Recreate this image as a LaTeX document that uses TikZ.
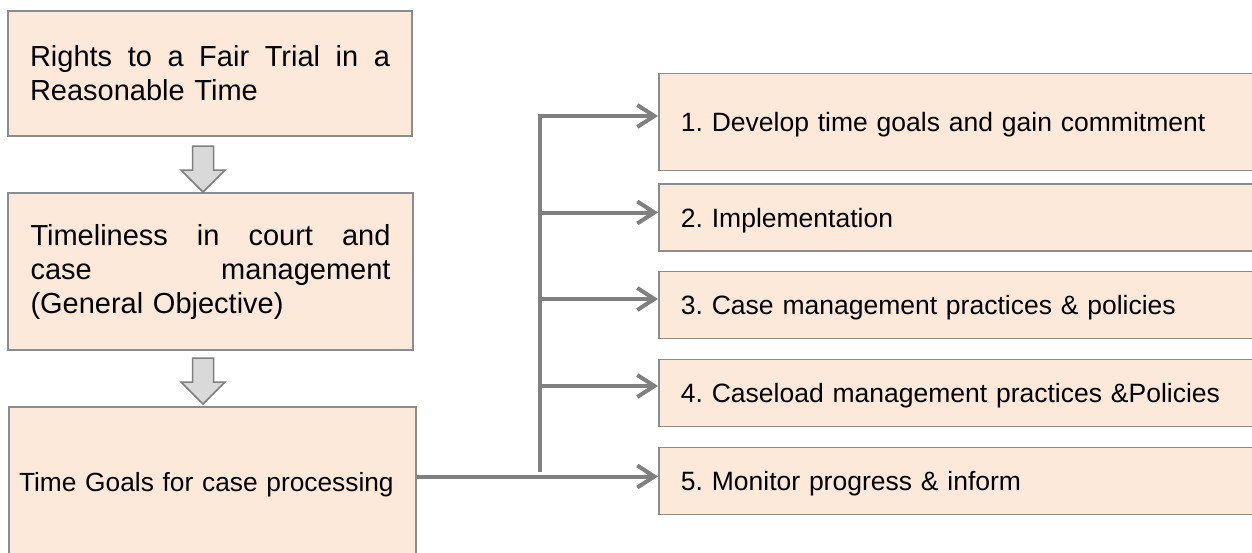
\documentclass[tikz,border=0pt]{standalone}
\usepackage{fontspec}
\setmainfont{Liberation Sans}
\usetikzlibrary{arrows.meta,calc}
\definecolor{boxfill}{HTML}{FDE9D9}
\definecolor{boxline}{HTML}{8C8C8C}
\definecolor{linkgray}{HTML}{808080}
\definecolor{blockfill}{HTML}{D9D9D9}
\frenchspacing

\tikzset{
  box/.style={draw=boxline, line width=1.8pt, fill=boxfill, rectangle, inner sep=0pt},
  bigtext/.style={font=\fontsize{29}{34}\selectfont},
  smalltext/.style={font=\fontsize{26.5}{31}\selectfont},
  oneline/.style={text height=19.5pt, text depth=0pt},
  link/.style={draw=linkgray, line width=4pt, line join=miter},
  tipped/.style={-{Straight Barb[length=17pt,width=22pt]}},
  block/.style={draw=linkgray, fill=blockfill, line width=1.5pt, line join=miter},
  stepitem/.style={box, smalltext, oneline, anchor=west, minimum width=620pt,
    text width=576pt, inner xsep=22pt, align=left, minimum height=#1},
  pics/downblock/.style={code={
    \draw[block] (-10.5,0) -- (10.5,0) -- (10.5,24) -- (22,24) -- (0,46)
      -- (-22,24) -- (-10.5,24) -- cycle;}}
}

\begin{document}
\begin{tikzpicture}[x=1pt,y=-1pt]
\useasboundingbox (0,0) rectangle (1252,552);
\clip (0,0) rectangle (1252,552);

% left column
\node[box, bigtext, minimum width=404pt, minimum height=125pt,
      text width=360pt, align=left] (b1) at (210,73.5)
  {Rights\hfill to\hfill a\hfill Fair\hfill Trial\hfill in\hfill a\\Reasonable Time};
\node[box, bigtext, minimum width=405pt, minimum height=157pt,
      text width=360pt, align=left] (b2) at (210.5,271.5)
  {Timeliness\hfill in\hfill court\hfill and\\case\hfill management\\(General Objective)};
\node[box, font=\fontsize{26.3}{31}\selectfont, oneline, minimum width=407pt,
      minimum height=150pt, text width=387pt, inner xsep=10pt, align=left]
  (b3) at (212.5,482) {Time Goals for case processing};

\pic at (203,146) {downblock};
\pic at (203,358) {downblock};

% right column
\node[stepitem=97pt]  (r1) at (658,122)   {1. Develop time goals and gain commitment};
\node[stepitem=67pt]  (r2) at (658,217.5) {2. Implementation};
\node[stepitem=67pt]  (r3) at (658,305)   {3. Case management practices \& policies};
\node[stepitem=67pt]  (r4) at (658,393)   {4. Caseload management practices \&Policies};
\node[stepitem=67pt]  (r5) at (658,481)   {5. Monitor progress \& inform};

% arrow end points on the step boxes
\coordinate (a1) at ([yshift=6pt]r1.west);
\coordinate (a2) at ([yshift=5pt]r2.west);
\coordinate (a3) at ([yshift=6pt]r3.west);
\coordinate (a4) at ([yshift=7pt]r4.west);
\coordinate (a5) at ([yshift=4.5pt]r5.west);
\coordinate (trunk) at (540,472);

% connectors
\draw[link, tipped] (b3.east |- a5) -- (a5);
\draw[link, tipped] (trunk) |- (a1);
\draw[link, tipped] (trunk |- a2) -- (a2);
\draw[link, tipped] (trunk |- a3) -- (a3);
\draw[link, tipped] (trunk |- a4) -- (a4);
\end{tikzpicture}
\end{document}
